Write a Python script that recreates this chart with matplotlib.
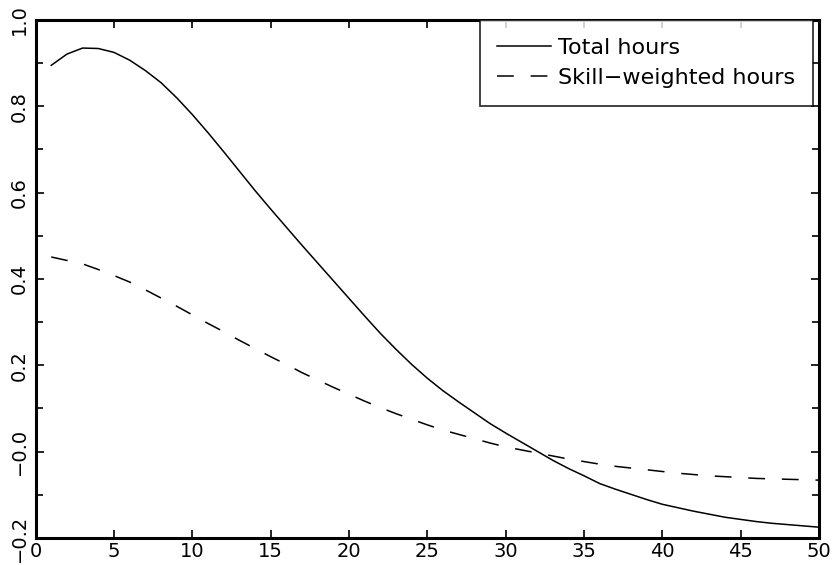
import matplotlib
matplotlib.use("Agg")
import matplotlib.pyplot as plt
from matplotlib.ticker import FixedLocator, FixedFormatter, MultipleLocator

plt.rcParams['font.family'] = ['DejaVu Sans']

# horizon (x) values
horizon = list(range(1, 51))
total_hours = [0.895, 0.921, 0.935, 0.934, 0.925, 0.907, 0.883, 0.855, 0.820, 0.781,
               0.739, 0.695, 0.650, 0.605, 0.562, 0.520, 0.478, 0.437, 0.396, 0.355,
               0.314, 0.274, 0.237, 0.202, 0.170, 0.141, 0.115, 0.090, 0.065, 0.043,
               0.022, 0.001, -0.020, -0.039, -0.056, -0.074, -0.087, -0.099, -0.111, -0.122,
               -0.130, -0.138, -0.145, -0.152, -0.157, -0.162, -0.166, -0.169, -0.172, -0.175]
skill_hours = [0.451, 0.443, 0.435, 0.422, 0.408, 0.393, 0.375, 0.356, 0.337, 0.317,
               0.297, 0.278, 0.258, 0.239, 0.220, 0.202, 0.183, 0.166, 0.149, 0.133,
               0.117, 0.102, 0.088, 0.075, 0.062, 0.050, 0.040, 0.030, 0.020, 0.011,
               0.004, -0.003, -0.010, -0.017, -0.023, -0.029, -0.034, -0.038, -0.042, -0.046,
               -0.050, -0.053, -0.056, -0.058, -0.060, -0.062, -0.063, -0.064, -0.065, -0.066]

x_ticks = [0, 5, 10, 15, 20, 25, 30, 35, 40, 45, 50]
x_ticklabels = ["0", "5", "10", "15", "20", "25", "30", "35", "40", "45", "50"]
y_ticks = [-0.2, 0.0, 0.2, 0.4, 0.6, 0.8, 1.0]
y_ticklabels = ["\u22120.2", "\u22120.0", "0.2", "0.4", "0.6", "0.8", "1.0"]

fig = plt.figure(figsize=(8.35, 5.65), dpi=100)
ax = fig.add_axes([0.0426, 0.0478, 0.9385, 0.9168])

ax.plot(horizon, total_hours, color='black', lw=1.1, label='Total hours')
ax.plot(horizon, skill_hours, color='black', lw=1.1, dashes=(11, 11),
        label='Skill\u2212weighted hours')

ax.set_xlim(0, 50)
ax.set_ylim(-0.2, 1.0)
ax.xaxis.set_major_locator(FixedLocator(x_ticks))
ax.xaxis.set_major_formatter(FixedFormatter(x_ticklabels))
ax.yaxis.set_major_locator(FixedLocator(y_ticks))
ax.yaxis.set_major_formatter(FixedFormatter(y_ticklabels))
ax.yaxis.set_minor_locator(MultipleLocator(0.1))

ax.tick_params(which='both', direction='in', top=True, right=True,
               width=1.2, labelsize=14)
ax.tick_params(which='major', length=6)
ax.tick_params(which='minor', length=5)
ax.tick_params(axis='y', which='major', pad=5)
ax.tick_params(axis='x', which='major', pad=3)
for lab in ax.get_yticklabels():
    lab.set_rotation(90)
    lab.set_va('center')

for s in ax.spines.values():
    s.set_linewidth(2.2)

leg = ax.legend(loc='upper right', bbox_to_anchor=(0.9925, 1.0),
                borderaxespad=0, fontsize=16, frameon=True, fancybox=False,
                handlelength=2.4, handletextpad=0.35, borderpad=0.8,
                labelspacing=0.45)
leg.get_frame().set_edgecolor('black')
leg.get_frame().set_linewidth(1.3)

fig.savefig('out.png', dpi=100)
